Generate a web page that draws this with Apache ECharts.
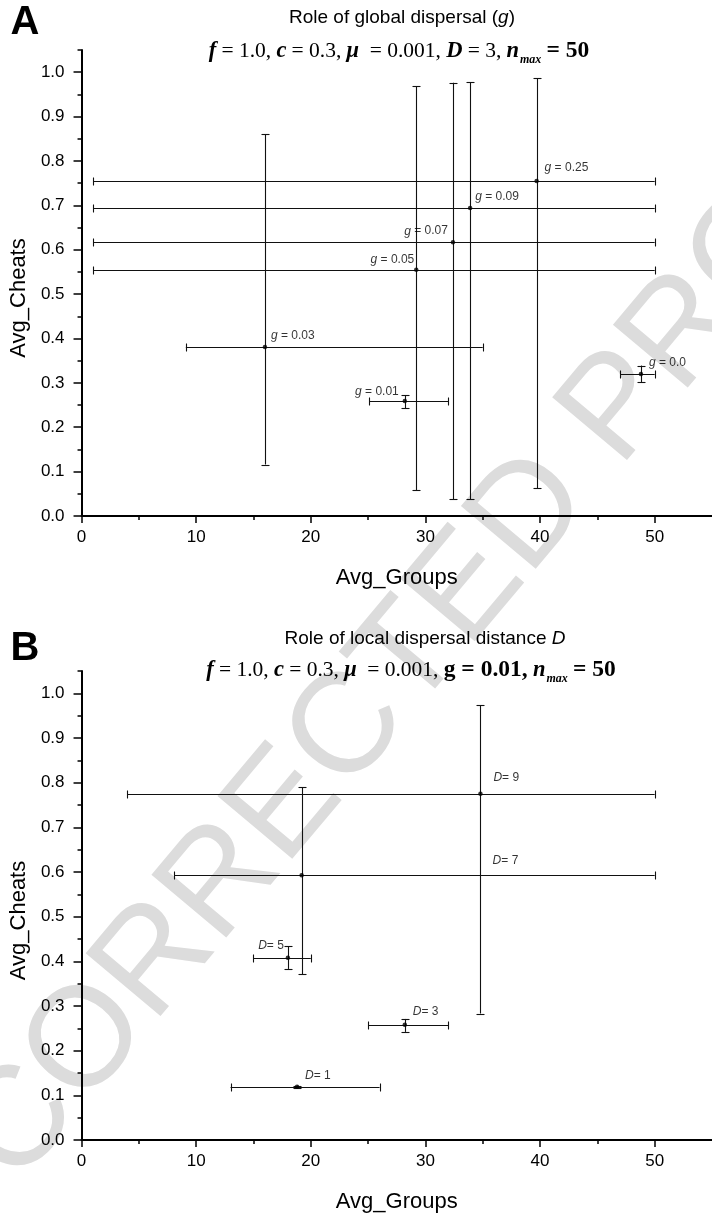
<!DOCTYPE html>
<html>
<head>
<meta charset="utf-8">
<script src="https://cdn.jsdelivr.net/npm/echarts@6/dist/echarts.min.js"></script>
<style>
  html, body { margin: 0; padding: 0; background: #fff; }
  #chart { width: 712px; height: 1215px; }
</style>
</head>
<body>
<div id="chart"></div>
<script>
// ---- panel A: role of global dispersal g ----
const gValues = ['0.0', '0.01', '0.03', '0.05', '0.07', '0.09', '0.25']
const groupsA = [48.8, 28.2, 16.0, 29.2, 32.4, 33.9, 39.7]
const cheatsA = [0.320, 0.259, 0.381, 0.555, 0.617, 0.694, 0.755]
const groupsLowA = [47.0, 25.1, 9.1, 1.0, 1.0, 1.0, 1.0]
const groupsHighA = [50.0, 32.0, 35.0, 50.0, 50.0, 50.0, 50.0]
const cheatsLowA = [0.302, 0.243, 0.116, 0.058, 0.038, 0.038, 0.062]
const cheatsHighA = [0.339, 0.272, 0.860, 0.968, 0.976, 0.978, 0.986]

// ---- panel B: role of local dispersal distance D ----
const dValues = ['1', '3', '5', '7', '9']
const groupsB = [18.8, 28.2, 18.0, 19.2, 34.8]
const cheatsB = [0.119, 0.258, 0.408, 0.593, 0.775]
const groupsLowB = [13.0, 25.0, 15.0, 8.1, 4.0]
const groupsHighB = [26.0, 32.0, 20.0, 50.0, 50.0]
const cheatsLowB = [0.116, 0.242, 0.383, 0.371, 0.283]
const cheatsHighB = [0.122, 0.271, 0.434, 0.790, 0.974]

// ticks
const xTicks = [0, 10, 20, 30, 40, 50]
const xMinorTicks = [5, 15, 25, 35, 45]
const yTicks = [0, 0.1, 0.2, 0.3, 0.4, 0.5, 0.6, 0.7, 0.8, 0.9, 1.0]
const yMinorTicks = [0.05, 0.15, 0.25, 0.35, 0.45, 0.55, 0.65, 0.75, 0.85, 0.95, 1.05]

// label placement (pixel offset from the point, alignment)
const labelOffsetA = [[8, -11], [-6, -9], [6, -11], [-2, -10], [-5, -11], [5, -11], [8, -13]]
const labelAlignA = ['left', 'right', 'left', 'right', 'right', 'left', 'left']
const labelOffsetB = [[8, -11], [8, -13], [-4, -12], [191, -14], [13, -16]]
const labelAlignB = ['left', 'left', 'right', 'left', 'left']

const SANS = 'Liberation Sans, Arial, sans-serif'
const SERIF = 'Liberation Serif, Times New Roman, serif'

const chart = echarts.init(document.getElementById('chart'), null, { renderer: 'canvas' })

function errorBars(params, api) {
  const x = api.value(0), y = api.value(1)
  const p = api.coord([x, y])
  const xl = api.coord([api.value(2), y])[0]
  const xh = api.coord([api.value(3), y])[0]
  const yl = api.coord([x, api.value(4)])[1]
  const yh = api.coord([x, api.value(5)])[1]
  const px = Math.round(p[0]) + 0.5
  const py = Math.round(p[1]) + 0.5
  const c = 4
  const style = { stroke: '#111', lineWidth: 1.1 }
  const line = (x1, y1, x2, y2) => ({ type: 'line', shape: { x1, y1, x2, y2 }, style })
  return {
    type: 'group',
    children: [
      line(xl, py, xh, py),
      line(Math.round(xl) + 0.5, py - c, Math.round(xl) + 0.5, py + c),
      line(Math.round(xh) + 0.5, py - c, Math.round(xh) + 0.5, py + c),
      line(px, yl, px, yh),
      line(px - c, Math.round(yl) + 0.5, px + c, Math.round(yl) + 0.5),
      line(px - c, Math.round(yh) + 0.5, px + c, Math.round(yh) + 0.5)
    ]
  }
}

function axesFor(grid) {
  const x = [{
    gridIndex: grid, type: 'value', position: 'bottom', min: 0, max: 55,
    name: 'Avg_Groups', nameLocation: 'middle', nameGap: 51,
    nameTextStyle: { fontSize: 22, color: '#000', fontFamily: SANS },
    axisLine: { onZero: false, lineStyle: { color: '#000', width: 2 } },
    axisTick: { customValues: xTicks, length: 7, lineStyle: { color: '#000', width: 1.5 } },
    axisLabel: { customValues: xTicks, margin: 13, fontSize: 17, color: '#000', fontFamily: SANS },
    splitLine: { show: false }
  }, {
    gridIndex: grid, type: 'value', position: 'bottom', min: 0, max: 55,
    axisLine: { show: false },
    axisTick: { customValues: xMinorTicks, length: 4, lineStyle: { color: '#000', width: 1.5 } },
    axisLabel: { show: false },
    splitLine: { show: false }
  }]
  const y = [{
    gridIndex: grid, type: 'value', position: 'left', min: 0, max: 1.05,
    name: 'Avg_Cheats', nameLocation: 'middle', nameGap: 45,
    nameTextStyle: { fontSize: 22, color: '#000', fontFamily: SANS, padding: [0, 30, 0, 0] },
    axisLine: { onZero: false, lineStyle: { color: '#000', width: 2 } },
    axisTick: { customValues: yTicks, length: 8, lineStyle: { color: '#000', width: 1.5 } },
    axisLabel: {
      customValues: yTicks, margin: 17, fontSize: 17, color: '#000', fontFamily: SANS,
      formatter: v => v.toFixed(1)
    },
    splitLine: { show: false }
  }, {
    gridIndex: grid, type: 'value', position: 'left', min: 0, max: 1.05,
    axisLine: { show: false },
    axisTick: { customValues: yMinorTicks, length: 4, lineStyle: { color: '#000', width: 1.5 } },
    axisLabel: { show: false },
    splitLine: { show: false }
  }]
  return { x, y }
}

const axA = axesFor(0)
const axB = axesFor(1)

function seriesFor(axisIdx, xs, ys, xl, xh, yl, yh, names, sym, offs, aligns, sep) {
  return [{
    type: 'custom',
    xAxisIndex: axisIdx, yAxisIndex: axisIdx,
    renderItem: errorBars,
    encode: { x: 0, y: 1 },
    data: xs.map((v, i) => [v, ys[i], xl[i], xh[i], yl[i], yh[i]]),
    z: 3, silent: true
  }, {
    type: 'scatter',
    xAxisIndex: axisIdx, yAxisIndex: axisIdx,
    symbol: 'circle', symbolSize: 4.5,
    itemStyle: { color: '#000' },
    data: xs.map((v, i) => ({
      value: [v, ys[i]],
      label: { align: aligns[i], offset: offs[i] }
    })),
    label: {
      show: true, position: 'inside', verticalAlign: 'middle',
      fontSize: 12, color: '#000', fontFamily: SANS,
      formatter: p => '{i|' + sym + '}' + sep + names[p.dataIndex],
      rich: { i: { fontStyle: 'italic', fontSize: 12, color: '#000', fontFamily: SANS } }
    },
    z: 4, silent: true
  }]
}

const subRich = {
  bi: { fontFamily: SERIF, fontSize: 22.5, fontStyle: 'italic', fontWeight: 'bold', fill: '#000' },
  r: { fontFamily: SERIF, fontSize: 21.5, fill: '#000' },
  b: { fontFamily: SERIF, fontSize: 23.5, fontWeight: 'bold', fill: '#000' },
  sub: { fontFamily: SERIF, fontSize: 12, fontStyle: 'italic', fontWeight: 'bold', fill: '#000', padding: [18, 0, 0, 1] }
}

function textEl(x, y, text, style) {
  return {
    type: 'text', x, y, z: 100,
    style: Object.assign({ text, fill: '#000', align: 'center', verticalAlign: 'middle', fontFamily: SANS }, style)
  }
}

chart.setOption({
  animation: false,
  backgroundColor: '#fff',
  grid: [
    { left: 81, top: 50, width: 633, height: 466 },
    { left: 81, top: 671, width: 637, height: 469 }
  ],
  xAxis: [axA.x[0], axA.x[1], axB.x[0], axB.x[1]],
  yAxis: [axA.y[0], axA.y[1], axB.y[0], axB.y[1]],
  series: [
    ...seriesFor(0, groupsA, cheatsA, groupsLowA, groupsHighA, cheatsLowA, cheatsHighA,
      gValues, 'g', labelOffsetA, labelAlignA, ' = '),
    ...seriesFor(2, groupsB, cheatsB, groupsLowB, groupsHighB, cheatsLowB, cheatsHighB,
      dValues, 'D', labelOffsetB, labelAlignB, '= ')
  ],
  graphic: { elements: [
    {
      type: 'text', x: 450, y: 610, rotation: 50 * Math.PI / 180, z: -10, silent: true,
      style: { text: 'CORRECTED PROOF', fill: '#dcdcdc', fontSize: 142, fontFamily: SANS,
        align: 'center', verticalAlign: 'middle' }
    },
    textEl(25, 23, 'A', { fontSize: 40, fontWeight: 'bold' }),
    textEl(402, 18, 'Role of global dispersal ({i|g})', {
      fontSize: 19, rich: { i: { fontSize: 19, fontStyle: 'italic', fontFamily: SANS, fill: '#000' } }
    }),
    textEl(399, 51, '{bi|f} {r|= 1.0,} {bi|c} {r|= 0.3,} {bi|μ}  {r|= 0.001,} {bi|D} {r|= 3,} {bi|n}{sub|max} {b|= 50}', {
      fontFamily: SERIF, fontSize: 21, rich: subRich
    }),
    textEl(25, 649, 'B', { fontSize: 40, fontWeight: 'bold' }),
    textEl(425, 639, 'Role of local dispersal distance {i|D}', {
      fontSize: 19, rich: { i: { fontSize: 19, fontStyle: 'italic', fontFamily: SANS, fill: '#000' } }
    }),
    textEl(411, 670, '{bi|f} {r|= 1.0,} {bi|c} {r|= 0.3,} {bi|μ}  {r|= 0.001,} {b|g = 0.01,} {bi|n}{sub|max} {b|= 50}', {
      fontFamily: SERIF, fontSize: 21, rich: subRich
    })
  ] }
})
</script>
</body>
</html>
